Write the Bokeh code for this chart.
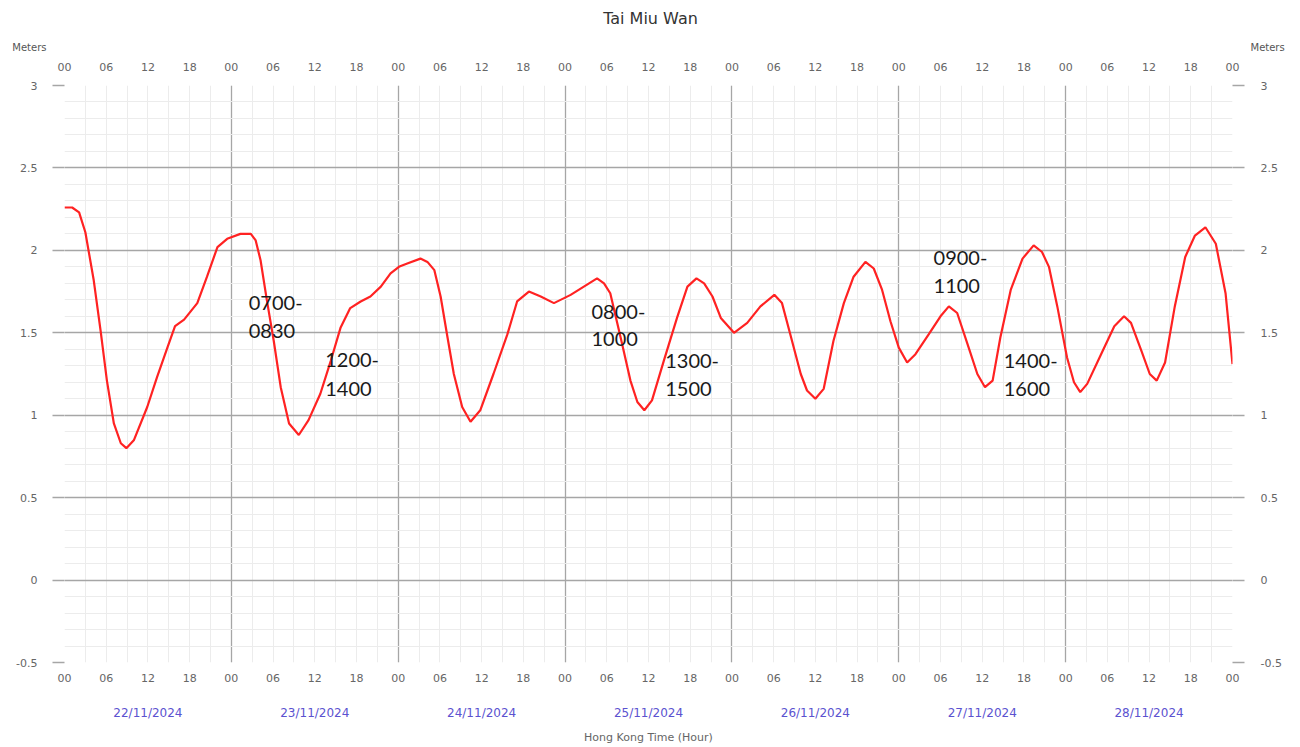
from bokeh.plotting import figure
from bokeh.models import (Range1d, LinearAxis, FixedTicker, Label)
from bokeh.layouts import column
from bokeh.core.properties import value
from bokeh.embed import file_html
from bokeh.resources import INLINE

# ---------------- data ----------------
title_text = "Tai Miu Wan"
unit_text = "Meters"
# hours since 00:00 22/11/2024
hours = [0, 1.1, 2.1, 3.0, 4.2, 5.2, 6.1, 7.1, 8.1, 8.9, 10.0, 11.9, 13.3, 14.8, 15.9, 17.2,
         19.1, 20.5, 22.0, 23.4, 25.3, 26.8, 27.5, 28.2, 29.1, 30.1, 31.1, 32.3, 33.7, 35.1,
         36.8, 38.3, 39.7, 41.1, 42.6, 44.0, 45.5, 46.9, 48.1, 49.3, 51.2, 52.2, 53.2, 54.1,
         55.1, 56.0, 57.2, 58.4, 59.8, 61.7, 63.7, 65.1, 66.8, 68.5, 70.4, 72.8, 74.7, 76.6,
         77.6, 78.5, 80.0, 81.4, 82.4, 83.4, 84.5, 86.2, 88.1, 89.6, 90.9, 92.0, 93.2, 94.4,
         96.3, 98.2, 100.1, 102.1, 103.2, 104.4, 105.9, 106.8, 108.0, 109.2, 110.6, 112.1,
         113.5, 115.2, 116.4, 117.6, 118.8, 120.0, 121.2, 122.4, 124.3, 126.0, 127.2, 128.4,
         129.9, 131.3, 132.4, 133.5, 134.6, 136.1, 137.8, 139.4, 140.6, 141.6, 142.8, 144.2,
         145.2, 146.1, 147.1, 149.1, 151.0, 152.4, 153.4, 154.9, 156.1, 157.1, 158.3, 159.7,
         161.2, 162.6, 164.1, 165.6, 167.0, 168.0]
levels = [2.26, 2.26, 2.23, 2.11, 1.82, 1.51, 1.21, 0.95, 0.83, 0.80, 0.85, 1.05, 1.23, 1.41, 1.54, 1.58,
          1.68, 1.84, 2.02, 2.07, 2.10, 2.10, 2.06, 1.94, 1.70, 1.45, 1.17, 0.95, 0.88, 0.97,
          1.13, 1.33, 1.53, 1.65, 1.69, 1.72, 1.78, 1.86, 1.90, 1.92, 1.95, 1.93, 1.88, 1.72,
          1.47, 1.25, 1.05, 0.96, 1.03, 1.25, 1.49, 1.69, 1.75, 1.72, 1.68, 1.73, 1.78, 1.83,
          1.80, 1.74, 1.47, 1.21, 1.08, 1.03, 1.09, 1.33, 1.59, 1.78, 1.83, 1.80, 1.72, 1.59,
          1.50, 1.56, 1.66, 1.73, 1.68, 1.49, 1.25, 1.15, 1.10, 1.16, 1.45, 1.68,
          1.84, 1.93, 1.89, 1.76, 1.57, 1.41, 1.32, 1.37, 1.49, 1.60, 1.66, 1.62,
          1.43, 1.25, 1.17, 1.21, 1.47, 1.76, 1.95, 2.03, 1.99, 1.90, 1.66, 1.35,
          1.20, 1.14, 1.19, 1.37, 1.54, 1.60, 1.56, 1.39, 1.25, 1.21, 1.32, 1.66,
          1.96, 2.09, 2.14, 2.04, 1.74, 1.31]

hour_ticks = [0, 6, 12, 18, 24, 30, 36, 42, 48, 54, 60, 66, 72, 78, 84, 90, 96, 102, 108,
              114, 120, 126, 132, 138, 144, 150, 156, 162, 168]
hour_labels = ["00", "06", "12", "18"] * 7 + ["00"]
date_ticks = [12, 36, 60, 84, 108, 132, 156]
date_labels = ["22/11/2024", "23/11/2024", "24/11/2024", "25/11/2024",
               "26/11/2024", "27/11/2024", "28/11/2024"]
level_ticks = [-0.5, 0, 0.5, 1, 1.5, 2, 2.5, 3]
level_labels = ["-0.5", "0", "0.5", "1", "1.5", "2", "2.5", "3"]

# hand-written notes on the chart
note_top = ["0700-", "1200-", "0800-", "1300-", "0900-", "1400-"]
note_bottom = ["0830", "1400", "1000", "1500", "1100", "1600"]
note_hour = [26.5, 37.5, 75.8, 86.4, 125.0, 135.1]
note_level_top = [1.678, 1.332, 1.629, 1.326, 1.951, 1.326]
note_level_bottom = [1.508, 1.162, 1.465, 1.156, 1.781, 1.156]

# ---------------- layout constants ----------------
FONT = "DejaVu Sans"
GRID_MAJOR = "#a6a6a6"
GRID_MINOR = "#ececec"
LABEL_GRAY = "#666666"
TOTAL_W = 1292
HEADER_H = 54
BORDER_L = 64
FRAME_W, FRAME_H = 1168, 577
BORDER_R = TOTAL_W - BORDER_L - FRAME_W

# ---------------- header strip (title + unit labels) ----------------
# its frame lines up with the main frame, so the x range is in page pixels
head = figure(width=TOTAL_W, height=HEADER_H,
              min_border_left=BORDER_L, min_border_right=BORDER_R,
              min_border_top=0, min_border_bottom=0,
              x_range=Range1d(BORDER_L, BORDER_L + FRAME_W), y_range=Range1d(HEADER_H, 0),
              output_backend="svg", toolbar_location=None,
              x_axis_location=None, y_axis_location=None)
head.outline_line_color = None
head.grid.visible = False
head.text(x=[650], y=[18], text=[title_text], text_font=value(FONT),
          text_font_size="16px", text_color="#333333",
          text_align="center", text_baseline="middle")
# "Meters" on both sides, drawn as the single label of an otherwise bare axis
for side in ("left", "right"):
    uax = LinearAxis(ticker=FixedTicker(ticks=[47]), major_label_overrides={47: unit_text})
    uax.axis_line_color = None
    uax.major_tick_line_color = None
    uax.minor_tick_line_color = None
    uax.major_tick_out = 0
    uax.major_tick_in = 0
    uax.major_label_standoff = 18
    uax.major_label_text_font = FONT
    uax.major_label_text_font_size = "10px"
    uax.major_label_text_color = "#555555"
    head.add_layout(uax, side)

# ---------------- main figure ----------------
p = figure(frame_width=FRAME_W, frame_height=FRAME_H,
           min_border_left=BORDER_L, min_border_right=BORDER_R,
           min_border_top=85 - HEADER_H, min_border_bottom=81,
           x_range=Range1d(0, 168), y_range=Range1d(-0.5, 3),
           output_backend="svg", toolbar_location=None,
           x_axis_location=None, y_axis_location=None)
p.outline_line_color = None
p.background_fill_color = "white"
p.border_fill_color = "white"

# grids
p.xgrid.ticker = FixedTicker(ticks=[0, 24, 48, 72, 96, 120, 144, 168],
                             minor_ticks=list(range(0, 169, 3)))
p.xgrid.grid_line_color = GRID_MAJOR
p.xgrid.grid_line_width = 1.3
p.xgrid.minor_grid_line_color = GRID_MINOR
p.xgrid.minor_grid_line_width = 1
p.ygrid.ticker = FixedTicker(ticks=level_ticks,
                             minor_ticks=[round(-0.5 + 0.1 * i, 1) for i in range(36)])
p.ygrid.grid_line_color = GRID_MAJOR
p.ygrid.grid_line_width = 1.3
p.ygrid.minor_grid_line_color = GRID_MINOR
p.ygrid.minor_grid_line_width = 1


def style_axis(ax, size="11px", color=LABEL_GRAY):
    ax.axis_line_color = None
    ax.major_tick_in = 0
    ax.minor_tick_in = 0
    ax.minor_tick_out = 0
    ax.major_label_text_font = FONT
    ax.major_label_text_font_size = size
    ax.major_label_text_color = color


# left / right level axes
for side in ("left", "right"):
    ax = LinearAxis(ticker=FixedTicker(ticks=level_ticks),
                    major_label_overrides=dict(zip(level_ticks, level_labels)))
    style_axis(ax)
    ax.major_tick_out = 12
    ax.major_tick_line_color = GRID_MAJOR
    ax.major_tick_line_width = 1.3
    ax.major_label_standoff = 15 if side == "left" else 16
    p.add_layout(ax, side)

# top hour axis
top_ax = LinearAxis(ticker=FixedTicker(ticks=hour_ticks),
                    major_label_overrides=dict(zip(hour_ticks, hour_labels)))
style_axis(top_ax)
top_ax.major_tick_out = 0
top_ax.major_tick_line_color = None
top_ax.major_label_standoff = 15
p.add_layout(top_ax, "above")

# bottom hour axis
bot_ax = LinearAxis(ticker=FixedTicker(ticks=hour_ticks),
                    major_label_overrides=dict(zip(hour_ticks, hour_labels)))
style_axis(bot_ax)
bot_ax.major_tick_out = 0
bot_ax.major_tick_line_color = None
bot_ax.major_label_standoff = 11
p.add_layout(bot_ax, "below")

# bottom date axis
date_ax = LinearAxis(ticker=FixedTicker(ticks=date_ticks),
                     major_label_overrides=dict(zip(date_ticks, date_labels)),
                     axis_label="Hong Kong Time (Hour)")
style_axis(date_ax, size="12px", color="#5b52d0")
date_ax.major_tick_out = 0
date_ax.major_tick_line_color = None
date_ax.major_label_standoff = 21
date_ax.axis_label_text_font = FONT
date_ax.axis_label_text_font_size = "11px"
date_ax.axis_label_text_font_style = "normal"
date_ax.axis_label_text_color = LABEL_GRAY
date_ax.axis_label_standoff = 8
p.add_layout(date_ax, "below")

# tide curve
p.line(hours, levels, line_color="#ff2222", line_width=2.2)

# notes
for t1, t2, h, l1, l2 in zip(note_top, note_bottom, note_hour, note_level_top, note_level_bottom):
    for txt, lv in ((t1, l1), (t2, l2)):
        p.add_layout(Label(x=h, y=lv, text=txt, text_font="Lato", text_font_size="20px",
                           text_color="#1a1a1a", text_align="left", text_baseline="middle"))

layout = column(head, p, spacing=0)
open("out.html", "w").write(file_html(layout, INLINE))
